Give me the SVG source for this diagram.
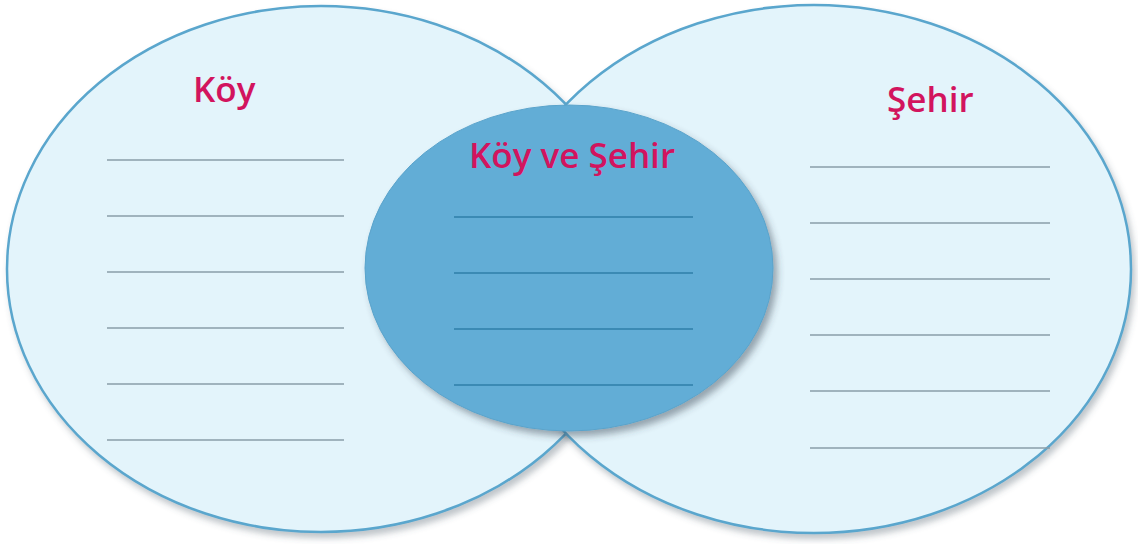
<svg xmlns="http://www.w3.org/2000/svg" width="1138" height="544" viewBox="0 0 1138 544">
  <defs>
    <filter id="shadow" x="-10%" y="-10%" width="125%" height="130%">
      <feDropShadow dx="3" dy="5" stdDeviation="3" flood-color="#4a5a66" flood-opacity="0.35"/>
    </filter>
    <filter id="shadowMid" x="-10%" y="-10%" width="125%" height="130%">
      <feDropShadow dx="4" dy="5" stdDeviation="3.5" flood-color="#34434d" flood-opacity="0.45"/>
    </filter>
  </defs>
  <style>
    .outer { fill: #e3f4fb; stroke: #5aa6cd; stroke-width: 2.5; }
    .middle { fill: #62add6; stroke: #5aa3cb; stroke-width: 1; }
    .line { stroke: #8a9ea9; stroke-width: 1.6; }
    .mline { stroke: #2f7fa9; stroke-width: 1.6; }
    .title { font-family: "Open Sans", "Noto Sans", "Liberation Sans", sans-serif; font-size: 35px; font-weight: 600; fill: #d2145e; }
  </style>
  <rect width="1138" height="544" fill="#ffffff"/>

  <g id="koy">
    <ellipse class="outer" cx="321" cy="269" rx="314" ry="263" filter="url(#shadow)"/>
    <text class="title" x="193" y="102">Köy</text>
    <g>
      <line class="line" x1="107" y1="160" x2="344" y2="160"/>
      <line class="line" x1="107" y1="216" x2="344" y2="216"/>
      <line class="line" x1="107" y1="272" x2="344" y2="272"/>
      <line class="line" x1="107" y1="328" x2="344" y2="328"/>
      <line class="line" x1="107" y1="384" x2="344" y2="384"/>
      <line class="line" x1="107" y1="440" x2="344" y2="440"/>
    </g>
  </g>

  <g id="sehir">
    <ellipse class="outer" cx="814" cy="269" rx="317" ry="264" filter="url(#shadow)"/>
    <text class="title" x="887" y="112">Şehir</text>
    <g>
      <line class="line" x1="810" y1="167" x2="1050" y2="167"/>
      <line class="line" x1="810" y1="223" x2="1050" y2="223"/>
      <line class="line" x1="810" y1="279" x2="1050" y2="279"/>
      <line class="line" x1="810" y1="335" x2="1050" y2="335"/>
      <line class="line" x1="810" y1="391" x2="1050" y2="391"/>
      <line class="line" x1="810" y1="448" x2="1050" y2="448"/>
    </g>
  </g>

  <g id="koy-ve-sehir">
    <ellipse class="middle" cx="569" cy="268" rx="204" ry="163" filter="url(#shadowMid)"/>
    <text class="title" x="469" y="168">Köy ve Şehir</text>
    <g>
      <line class="mline" x1="454" y1="217" x2="693" y2="217"/>
      <line class="mline" x1="454" y1="273" x2="693" y2="273"/>
      <line class="mline" x1="454" y1="329" x2="693" y2="329"/>
      <line class="mline" x1="454" y1="385" x2="693" y2="385"/>
    </g>
  </g>
</svg>
